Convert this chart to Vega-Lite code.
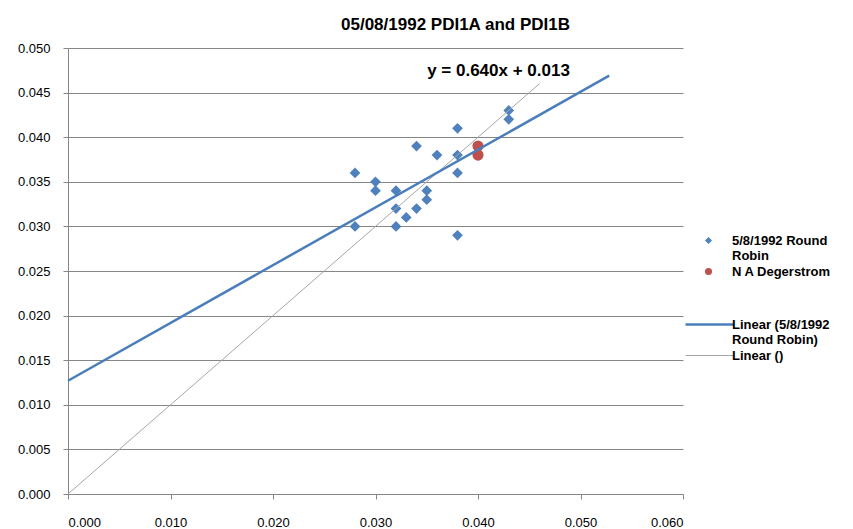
{
  "$schema": "https://vega.github.io/schema/vega-lite/v6.json",
  "width": 615,
  "height": 446,
  "autosize": {"type": "none"},
  "padding": {"left": 68, "top": 48, "right": 170, "bottom": 35},
  "background": "white",
  "title": {
    "text": "05/08/1992 PDI1A and PDI1B",
    "font": "Liberation Sans",
    "fontSize": 17,
    "fontWeight": "bold",
    "color": "#000000",
    "anchor": "middle",
    "frame": "group",
    "dx": 80,
    "offset": -5,
    "baseline": "alphabetic"
  },
  "config": {
    "view": {"stroke": null},
    "legend": {
      "labelFont": "Liberation Sans",
      "labelFontSize": 13,
      "labelFontWeight": "bold",
      "labelColor": "#000000",
      "padding": 0,
      "labelLimit": 300
    }
  },
  "datasets": {
    "points": [
      {"x": 0.028, "y": 0.036, "series": "5/8/1992 Round Robin"},
      {"x": 0.028, "y": 0.030, "series": "5/8/1992 Round Robin"},
      {"x": 0.030, "y": 0.035, "series": "5/8/1992 Round Robin"},
      {"x": 0.030, "y": 0.034, "series": "5/8/1992 Round Robin"},
      {"x": 0.032, "y": 0.034, "series": "5/8/1992 Round Robin"},
      {"x": 0.032, "y": 0.032, "series": "5/8/1992 Round Robin"},
      {"x": 0.032, "y": 0.030, "series": "5/8/1992 Round Robin"},
      {"x": 0.033, "y": 0.031, "series": "5/8/1992 Round Robin"},
      {"x": 0.034, "y": 0.039, "series": "5/8/1992 Round Robin"},
      {"x": 0.034, "y": 0.032, "series": "5/8/1992 Round Robin"},
      {"x": 0.035, "y": 0.034, "series": "5/8/1992 Round Robin"},
      {"x": 0.035, "y": 0.033, "series": "5/8/1992 Round Robin"},
      {"x": 0.036, "y": 0.038, "series": "5/8/1992 Round Robin"},
      {"x": 0.038, "y": 0.041, "series": "5/8/1992 Round Robin"},
      {"x": 0.038, "y": 0.038, "series": "5/8/1992 Round Robin"},
      {"x": 0.038, "y": 0.036, "series": "5/8/1992 Round Robin"},
      {"x": 0.038, "y": 0.029, "series": "5/8/1992 Round Robin"},
      {"x": 0.043, "y": 0.043, "series": "5/8/1992 Round Robin"},
      {"x": 0.043, "y": 0.042, "series": "5/8/1992 Round Robin"},
      {"x": 0.040, "y": 0.039, "series": "N A Degerstrom"},
      {"x": 0.040, "y": 0.038, "series": "N A Degerstrom"}
    ],
    "trend": [
      {"x": 0.0, "y": 0.0127, "series": "Linear (5/8/1992 Round Robin)"},
      {"x": 0.0528, "y": 0.0469, "series": "Linear (5/8/1992 Round Robin)"},
      {"x": 0.0, "y": 0.0, "series": "Linear ()"},
      {"x": 0.046, "y": 0.046, "series": "Linear ()"}
    ],
    "eq": [
      {"x": 0.042, "y": 0.0469, "label": "y = 0.640x + 0.013"}
    ]
  },
  "encoding": {
    "x": {
      "field": "x",
      "type": "quantitative",
      "scale": {"domain": [0, 0.06], "nice": false, "zero": false},
      "axis": {
        "title": null,
        "values": [0, 0.01, 0.02, 0.03, 0.04, 0.05, 0.06],
        "format": ".3f",
        "grid": false,
        "domainColor": "#868686",
        "tickColor": "#868686",
        "tickSize": 5,
        "labelPadding": 17,
        "labelFont": "Liberation Sans",
        "labelFontSize": 13,
        "labelColor": "#000000"
      }
    },
    "y": {
      "field": "y",
      "type": "quantitative",
      "scale": {"domain": [0, 0.05], "nice": false, "zero": false},
      "axis": {
        "title": null,
        "values": [0, 0.005, 0.01, 0.015, 0.02, 0.025, 0.03, 0.035, 0.04, 0.045, 0.05],
        "format": ".3f",
        "grid": true,
        "gridColor": "#868686",
        "domainColor": "#868686",
        "tickColor": "#868686",
        "tickSize": 5,
        "labelPadding": 13,
        "labelFont": "Liberation Sans",
        "labelFontSize": 13,
        "labelColor": "#000000"
      }
    }
  },
  "layer": [
    {
      "data": {"name": "points"},
      "transform": [{"filter": "datum.series == '5/8/1992 Round Robin'"}],
      "mark": {"type": "point", "filled": true, "opacity": 1, "size": 115},
      "encoding": {
        "color": {
          "field": "series",
          "type": "nominal",
          "scale": {"domain": ["5/8/1992 Round Robin", "N A Degerstrom"], "range": ["#4F81BD", "#C0504D"]},
          "legend": {
            "orient": "none",
            "legendX": 634,
            "legendY": 186,
            "title": null,
            "symbolSize": 50,
            "labelOffset": 17,
            "labelExpr": "datum.label == '5/8/1992 Round Robin' ? ['5/8/1992 Round', 'Robin'] : datum.label",
            "encode": {"labels": {"update": {"lineHeight": {"value": 16}}}}
          }
        },
        "shape": {
          "field": "series",
          "type": "nominal",
          "scale": {"domain": ["5/8/1992 Round Robin", "N A Degerstrom"], "range": ["diamond", "circle"]}
        }
      }
    },
    {
      "data": {"name": "points"},
      "transform": [{"filter": "datum.series == 'N A Degerstrom'"}],
      "mark": {"type": "point", "filled": true, "opacity": 1, "size": 125},
      "encoding": {
        "color": {"field": "series", "type": "nominal"},
        "shape": {"field": "series", "type": "nominal"}
      }
    },
    {
      "data": {"name": "trend"},
      "transform": [{"filter": "datum.series == 'Linear ()'"}],
      "mark": {"type": "line", "strokeWidth": 1},
      "encoding": {
        "stroke": {
          "field": "series",
          "type": "nominal",
          "scale": {"domain": ["Linear (5/8/1992 Round Robin)", "Linear ()"], "range": ["#4A7EBB", "#A6A6A6"]},
          "legend": {
            "orient": "none",
            "legendX": 635,
            "legendY": 270,
            "title": null,
            "symbolType": "stroke",
            "symbolSize": 2300,
            "symbolStrokeWidth": 2.5,
            "labelOffset": 16,
            "labelExpr": "datum.label == 'Linear (5/8/1992 Round Robin)' ? ['Linear (5/8/1992', 'Round Robin)'] : datum.label",
            "encode": {
              "labels": {"update": {"lineHeight": {"value": 15}}},
              "symbols": {"update": {"strokeWidth": {"signal": "datum.value == 'Linear ()' ? 1 : 2.5"}}}
            }
          }
        }
      }
    },
    {
      "data": {"name": "trend"},
      "transform": [{"filter": "datum.series != 'Linear ()'"}],
      "mark": {"type": "line", "strokeWidth": 2.5},
      "encoding": {
        "stroke": {"field": "series", "type": "nominal"}
      }
    },
    {
      "data": {"name": "eq"},
      "mark": {"type": "text", "font": "Liberation Sans", "fontSize": 17, "fontWeight": "bold", "align": "center", "baseline": "alphabetic", "color": "#000000"},
      "encoding": {
        "text": {"field": "label", "type": "nominal"}
      }
    }
  ]
}
